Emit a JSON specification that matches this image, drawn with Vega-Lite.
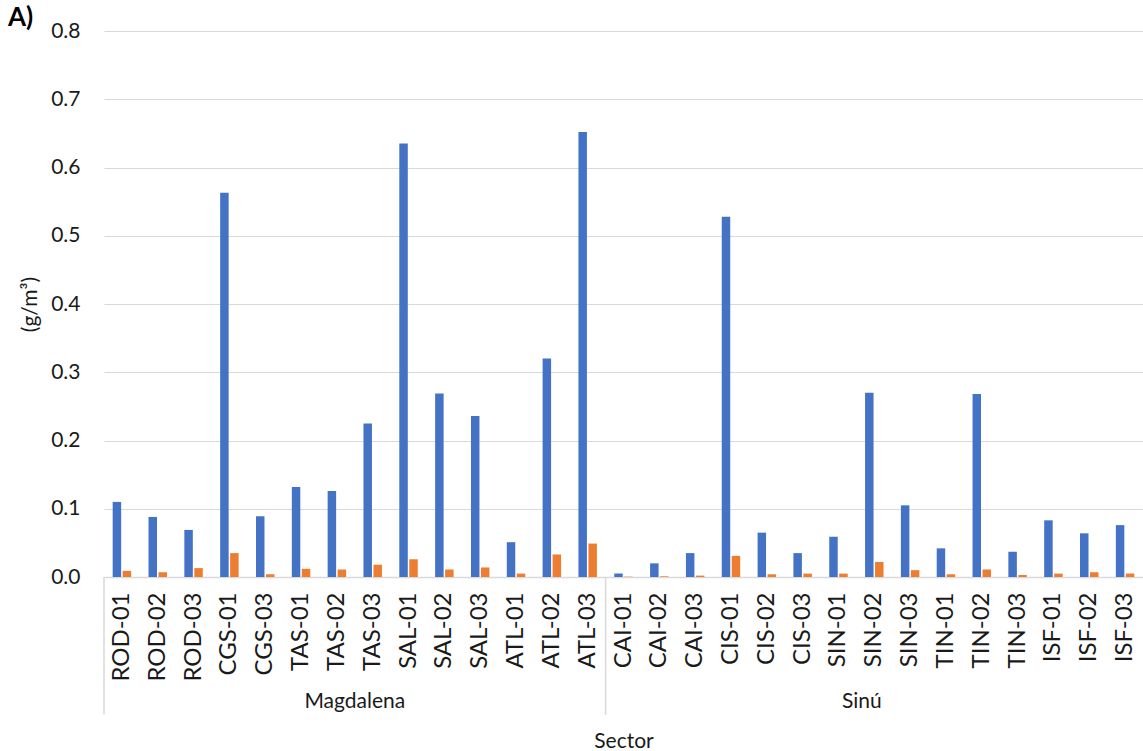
{
  "$schema": "https://vega.github.io/schema/vega-lite/v6.json",
  "width": 1039,
  "height": 546,
  "autosize": {"type": "none"},
  "padding": {"left": 104, "top": 31, "right": 0, "bottom": 174},
  "background": "white",
  "config": {"font": "Lato", "view": {"stroke": null}},
  "title": {"text": "A)", "anchor": "start", "frame": "group", "fontSize": 26, "fontWeight": "bold", "font": "Lato", "color": "#000000", "dx": -96, "dy": 35, "offset": 3, "baseline": "alphabetic"},
  "data": {"values": [
    {"site": "ROD-01", "sector": "Magdalena", "serie": "a", "value": 0.110},
    {"site": "ROD-01", "sector": "Magdalena", "serie": "b", "value": 0.009},
    {"site": "ROD-02", "sector": "Magdalena", "serie": "a", "value": 0.088},
    {"site": "ROD-02", "sector": "Magdalena", "serie": "b", "value": 0.007},
    {"site": "ROD-03", "sector": "Magdalena", "serie": "a", "value": 0.069},
    {"site": "ROD-03", "sector": "Magdalena", "serie": "b", "value": 0.013},
    {"site": "CGS-01", "sector": "Magdalena", "serie": "a", "value": 0.563},
    {"site": "CGS-01", "sector": "Magdalena", "serie": "b", "value": 0.035},
    {"site": "CGS-03", "sector": "Magdalena", "serie": "a", "value": 0.089},
    {"site": "CGS-03", "sector": "Magdalena", "serie": "b", "value": 0.004},
    {"site": "TAS-01", "sector": "Magdalena", "serie": "a", "value": 0.132},
    {"site": "TAS-01", "sector": "Magdalena", "serie": "b", "value": 0.012},
    {"site": "TAS-02", "sector": "Magdalena", "serie": "a", "value": 0.126},
    {"site": "TAS-02", "sector": "Magdalena", "serie": "b", "value": 0.011},
    {"site": "TAS-03", "sector": "Magdalena", "serie": "a", "value": 0.225},
    {"site": "TAS-03", "sector": "Magdalena", "serie": "b", "value": 0.018},
    {"site": "SAL-01", "sector": "Magdalena", "serie": "a", "value": 0.635},
    {"site": "SAL-01", "sector": "Magdalena", "serie": "b", "value": 0.026},
    {"site": "SAL-02", "sector": "Magdalena", "serie": "a", "value": 0.269},
    {"site": "SAL-02", "sector": "Magdalena", "serie": "b", "value": 0.011},
    {"site": "SAL-03", "sector": "Magdalena", "serie": "a", "value": 0.236},
    {"site": "SAL-03", "sector": "Magdalena", "serie": "b", "value": 0.014},
    {"site": "ATL-01", "sector": "Magdalena", "serie": "a", "value": 0.051},
    {"site": "ATL-01", "sector": "Magdalena", "serie": "b", "value": 0.005},
    {"site": "ATL-02", "sector": "Magdalena", "serie": "a", "value": 0.320},
    {"site": "ATL-02", "sector": "Magdalena", "serie": "b", "value": 0.033},
    {"site": "ATL-03", "sector": "Magdalena", "serie": "a", "value": 0.652},
    {"site": "ATL-03", "sector": "Magdalena", "serie": "b", "value": 0.049},
    {"site": "CAI-01", "sector": "Sinú", "serie": "a", "value": 0.005},
    {"site": "CAI-01", "sector": "Sinú", "serie": "b", "value": 0.0005},
    {"site": "CAI-02", "sector": "Sinú", "serie": "a", "value": 0.020},
    {"site": "CAI-02", "sector": "Sinú", "serie": "b", "value": 0.001},
    {"site": "CAI-03", "sector": "Sinú", "serie": "a", "value": 0.035},
    {"site": "CAI-03", "sector": "Sinú", "serie": "b", "value": 0.002},
    {"site": "CIS-01", "sector": "Sinú", "serie": "a", "value": 0.528},
    {"site": "CIS-01", "sector": "Sinú", "serie": "b", "value": 0.031},
    {"site": "CIS-02", "sector": "Sinú", "serie": "a", "value": 0.065},
    {"site": "CIS-02", "sector": "Sinú", "serie": "b", "value": 0.004},
    {"site": "CIS-03", "sector": "Sinú", "serie": "a", "value": 0.035},
    {"site": "CIS-03", "sector": "Sinú", "serie": "b", "value": 0.005},
    {"site": "SIN-01", "sector": "Sinú", "serie": "a", "value": 0.059},
    {"site": "SIN-01", "sector": "Sinú", "serie": "b", "value": 0.005},
    {"site": "SIN-02", "sector": "Sinú", "serie": "a", "value": 0.270},
    {"site": "SIN-02", "sector": "Sinú", "serie": "b", "value": 0.022},
    {"site": "SIN-03", "sector": "Sinú", "serie": "a", "value": 0.105},
    {"site": "SIN-03", "sector": "Sinú", "serie": "b", "value": 0.010},
    {"site": "TIN-01", "sector": "Sinú", "serie": "a", "value": 0.042},
    {"site": "TIN-01", "sector": "Sinú", "serie": "b", "value": 0.004},
    {"site": "TIN-02", "sector": "Sinú", "serie": "a", "value": 0.268},
    {"site": "TIN-02", "sector": "Sinú", "serie": "b", "value": 0.011},
    {"site": "TIN-03", "sector": "Sinú", "serie": "a", "value": 0.037},
    {"site": "TIN-03", "sector": "Sinú", "serie": "b", "value": 0.003},
    {"site": "ISF-01", "sector": "Sinú", "serie": "a", "value": 0.083},
    {"site": "ISF-01", "sector": "Sinú", "serie": "b", "value": 0.005},
    {"site": "ISF-02", "sector": "Sinú", "serie": "a", "value": 0.064},
    {"site": "ISF-02", "sector": "Sinú", "serie": "b", "value": 0.007},
    {"site": "ISF-03", "sector": "Sinú", "serie": "a", "value": 0.076},
    {"site": "ISF-03", "sector": "Sinú", "serie": "b", "value": 0.005}
  ]},
  "layer": [
    {
      "mark": {"type": "bar"},
      "encoding": {
        "x": {
          "field": "site", "type": "nominal", "sort": null,
          "scale": {"domain": ["ROD-01","ROD-02","ROD-03","CGS-01","CGS-03","TAS-01","TAS-02","TAS-03","SAL-01","SAL-02","SAL-03","ATL-01","ATL-02","ATL-03","CAI-01","CAI-02","CAI-03","CIS-01","CIS-02","CIS-03","SIN-01","SIN-02","SIN-03","TIN-01","TIN-02","TIN-03","ISF-01","ISF-02","ISF-03"], "paddingInner": 0, "paddingOuter": 0},
          "axis": {
            "title": "Sector", "titleFont": "Lato", "titleFontSize": 21, "titleFontWeight": "normal", "titleColor": "#1a1a1a", "titlePadding": 49,
            "labelAngle": -90, "labelFont": "Lato", "labelFontSize": 24, "labelColor": "#1a1a1a", "labelPadding": 15,
            "ticks": false, "grid": false, "domainColor": "#d9d9d9", "domainWidth": 1.5
          }
        },
        "xOffset": {"field": "serie", "type": "nominal", "scale": {"paddingInner": 0.15, "paddingOuter": 0.87}},
        "y": {
          "field": "value", "type": "quantitative",
          "scale": {"domain": [0, 0.8], "nice": false, "zero": true},
          "axis": {
            "title": "(g/m³)", "titleFont": "Lato", "titleFontSize": 21, "titleFontWeight": "normal", "titleColor": "#1a1a1a", "titlePadding": 10,
            "values": [0, 0.1, 0.2, 0.3, 0.4, 0.5, 0.6, 0.7, 0.8], "format": ".1f",
            "labelFont": "Lato", "labelFontSize": 21, "labelColor": "#1a1a1a", "labelPadding": 24,
            "ticks": false, "domain": false, "grid": true, "gridColor": "#d9d9d9", "gridWidth": 1.2
          }
        },
        "color": {"field": "serie", "type": "nominal", "scale": {"domain": ["a", "b"], "range": ["#4472C4", "#ED7D31"]}, "legend": null}
      }
    },
    {
      "data": {"values": [{}]},
      "mark": {"type": "rule", "color": "#d9d9d9", "strokeWidth": 1.5},
      "encoding": {
        "x": {"datum": "ROD-01", "bandPosition": 0},
        "y": {"datum": 0},
        "y2": {"datum": -0.202}
      }
    },
    {
      "data": {"values": [{}]},
      "mark": {"type": "rule", "color": "#d9d9d9", "strokeWidth": 1.5},
      "encoding": {
        "x": {"datum": "CAI-01", "bandPosition": 0},
        "y": {"datum": 0},
        "y2": {"datum": -0.202}
      }
    },
    {
      "data": {"values": [{}]},
      "mark": {"type": "text", "font": "Lato", "fontSize": 21, "color": "#1a1a1a", "baseline": "alphabetic", "align": "center"},
      "encoding": {
        "x": {"datum": "TAS-03", "bandPosition": 0},
        "y": {"datum": -0.192},
        "text": {"value": "Magdalena"}
      }
    },
    {
      "data": {"values": [{}]},
      "mark": {"type": "text", "font": "Lato", "fontSize": 21, "color": "#1a1a1a", "baseline": "alphabetic", "align": "center"},
      "encoding": {
        "x": {"datum": "SIN-02", "bandPosition": 0.15},
        "y": {"datum": -0.192},
        "text": {"value": "Sinú"}
      }
    }
  ]
}
